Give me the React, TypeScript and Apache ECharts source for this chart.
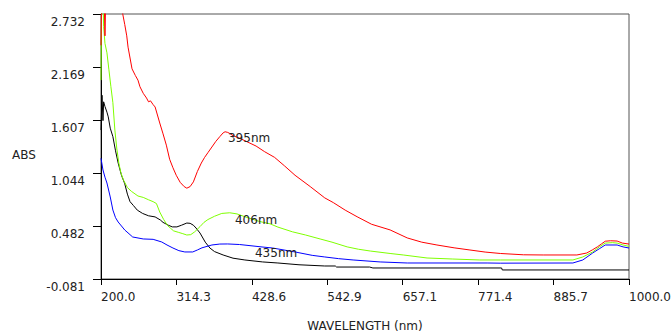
import React, { useEffect, useRef } from "react";
import * as echarts from "echarts";

// X ticks (nm) and Y ticks (ABS)
const xTicks = [200.0, 314.3, 428.6, 542.9, 657.1, 771.4, 885.7, 1000.0];
const yTicks = [-0.081, 0.482, 1.044, 1.607, 2.169, 2.732];

// Red spectrum (395nm)
const redNm = [200, 201.5, 204, 206, 208, 232, 233, 236, 239, 241, 247, 252, 256, 259, 264, 269, 272, 275, 279, 282, 289, 294, 299, 304, 309, 314, 320, 326, 330, 335, 340, 346, 352, 357, 362, 368, 374, 380, 385, 388, 392, 396, 400, 408, 420, 435, 448, 463, 478, 494, 517, 539, 552, 570, 588, 610, 638, 664, 686, 709, 735, 759, 782, 805, 840, 870, 921, 936, 945, 952, 958, 964, 972, 982, 990, 1000];
const redAbs = [2.40, 3.2, 3.2, 2.50, 3.2, 3.2, 2.73, 2.62, 2.50, 2.38, 2.15, 2.08, 2.03, 1.96, 1.89, 1.84, 1.80, 1.81, 1.77, 1.745, 1.575, 1.46, 1.34, 1.19, 1.10, 1.02, 0.945, 0.90, 0.883, 0.90, 0.95, 1.06, 1.15, 1.21, 1.26, 1.32, 1.38, 1.43, 1.47, 1.482, 1.475, 1.46, 1.44, 1.42, 1.38, 1.33, 1.27, 1.21, 1.12, 1.02, 0.90, 0.78, 0.73, 0.65, 0.58, 0.50, 0.44, 0.355, 0.31, 0.28, 0.25, 0.227, 0.205, 0.19, 0.176, 0.174, 0.174, 0.195, 0.23, 0.26, 0.29, 0.32, 0.325, 0.322, 0.30, 0.29];

// Green spectrum (406nm)
const greenNm = [200, 201, 203, 204, 206, 209, 212, 215, 218, 221, 224, 227, 230, 234, 240, 246, 256, 264, 272, 279, 284, 289, 295, 301, 305, 310, 317, 324, 330, 336, 342, 350, 356, 362, 372, 383, 395, 406, 418, 440, 456, 468, 490, 510, 532, 550, 573, 590, 608, 638, 658, 694, 733, 774, 805, 915, 930, 945, 955, 964, 975, 982, 991, 1000];
const greenAbs = [2.03, 2.9, 2.9, 2.60, 2.42, 2.32, 2.14, 1.96, 1.79, 1.50, 1.30, 1.15, 1.05, 0.97, 0.89, 0.85, 0.80, 0.785, 0.76, 0.74, 0.72, 0.63, 0.55, 0.485, 0.46, 0.43, 0.415, 0.40, 0.386, 0.39, 0.42, 0.475, 0.52, 0.55, 0.585, 0.615, 0.622, 0.61, 0.58, 0.53, 0.505, 0.47, 0.42, 0.386, 0.344, 0.31, 0.26, 0.235, 0.216, 0.19, 0.174, 0.142, 0.131, 0.121, 0.121, 0.121, 0.153, 0.206, 0.26, 0.30, 0.305, 0.30, 0.28, 0.265];

// Blue spectrum (435nm)
const blueNm = [200, 203, 206, 209, 214, 218, 222, 226, 236, 248, 264, 279, 292, 300, 309, 318, 327, 339, 346, 353, 368, 380, 392, 410, 444, 460, 494, 520, 539, 560, 582, 623, 664, 785, 805, 915, 930, 945, 955, 964, 982, 991, 1000];
const blueAbs = [1.20, 1.076, 1.0, 0.938, 0.79, 0.651, 0.57, 0.524, 0.439, 0.365, 0.344, 0.340, 0.312, 0.28, 0.248, 0.22, 0.206, 0.206, 0.227, 0.25, 0.28, 0.29, 0.291, 0.285, 0.259, 0.248, 0.206, 0.17, 0.153, 0.135, 0.121, 0.100, 0.089, 0.089, 0.087, 0.089, 0.121, 0.195, 0.24, 0.28, 0.28, 0.26, 0.248];

// Black spectrum
const blackNm = [200, 201.5, 203, 204, 206, 209, 211, 214, 218, 222, 226, 231, 236, 240, 244, 249, 255, 263, 272, 282, 290, 294, 302, 308, 315, 322, 330, 335, 340, 344, 350, 358, 365, 372, 385, 400, 418, 445, 468, 500, 539, 555, 557, 607, 612, 807, 808, 1000];
const blackAbs = [1.50, 1.87, 1.60, 1.80, 1.75, 1.69, 1.64, 1.52, 1.43, 1.28, 1.15, 1.02, 0.93, 0.82, 0.74, 0.70, 0.65, 0.615, 0.59, 0.578, 0.545, 0.52, 0.49, 0.472, 0.472, 0.49, 0.513, 0.51, 0.49, 0.46, 0.407, 0.31, 0.248, 0.21, 0.174, 0.14, 0.121, 0.10, 0.089, 0.07, 0.057, 0.057, 0.046, 0.046, 0.036, 0.036, 0.015, 0.015];

// Peak annotations
const peakLabels = ["395nm", "406nm", "435nm"];
const peakNm = [392.4, 403.0, 433.3];
const peakAbs = [1.416, 0.545, 0.195];

const FONT = "DejaVu Sans";
const TEXT = "#222222";

const zip = (xs: number[], ys: number[]) => xs.map((x, i) => [x, ys[i]]);

export default function App() {
  const ref = useRef<HTMLDivElement>(null);
  useEffect(() => {
    if (!ref.current) return;
    const chart = echarts.init(ref.current, undefined, { renderer: "svg" });
    const mkLabel = (i: number) => ({
      symbol: "circle",
      symbolSize: 0,
      silent: true,
      data: [{ coord: [peakNm[i], peakAbs[i]], name: peakLabels[i] }],
      label: {
        show: true,
        position: "right",
        distance: 0,
        formatter: "{b}",
        color: TEXT,
        fontSize: 12,
        fontFamily: FONT,
      },
    });
    const lineSeries = (name: string, data: number[][], color: string, mp?: any) => ({
      name,
      type: "line",
      data,
      showSymbol: false,
      symbol: "none",
      smooth: false,
      clip: true,
      lineStyle: { color, width: 1 },
      itemStyle: { color },
      markPoint: mp,
    });
    chart.setOption({
      animation: false,
      backgroundColor: "#ffffff",
      grid: {
        left: 101,
        right: 43,
        top: 14,
        bottom: 55,
        containLabel: false,
        outerBoundsMode: "none",
        show: true,
        borderColor: "#555555",
        borderWidth: 1,
      },
      graphic: [
        {
          type: "text",
          left: 12,
          top: 149,
          style: { text: "ABS", fill: TEXT, fontSize: 12, fontFamily: FONT },
        },
      ],
      xAxis: {
        type: "value",
        min: 200,
        max: 1000,
        name: "WAVELENGTH (nm)",
        nameLocation: "middle",
        nameGap: 41,
        nameTextStyle: { color: TEXT, fontSize: 12, fontFamily: FONT },
        axisLine: { show: true, onZero: false, lineStyle: { color: "#000", width: 1 } },
        axisTick: { show: true, inside: false, length: 6, customValues: xTicks, lineStyle: { color: "#000" } },
        axisLabel: {
          customValues: xTicks,
          formatter: (v: number) => v.toFixed(1),
          align: "left",
          margin: 12,
          color: TEXT,
          fontSize: 12,
          fontFamily: FONT,
          showMinLabel: true,
          showMaxLabel: true,
        },
        splitLine: { show: false },
      },
      yAxis: {
        type: "value",
        min: -0.081,
        max: 2.732,
        axisLine: { show: true, onZero: false, lineStyle: { color: "#000", width: 1 } },
        axisTick: { show: true, inside: false, length: 8, customValues: yTicks, lineStyle: { color: "#000" } },
        axisLabel: {
          customValues: yTicks,
          formatter: (v: number) => v.toFixed(3),
          margin: 16,
          verticalAlign: "top",
          padding: [2, 0, 0, 0],
          color: TEXT,
          fontSize: 12,
          fontFamily: FONT,
          showMinLabel: true,
          showMaxLabel: true,
        },
        splitLine: { show: false },
      },
      series: [
        lineSeries("black", zip(blackNm, blackAbs), "#000000"),
        lineSeries("blue", zip(blueNm, blueAbs), "#0000ff", mkLabel(2)),
        lineSeries("green", zip(greenNm, greenAbs), "#7fff00", mkLabel(1)),
        lineSeries("red", zip(redNm, redAbs), "#ff0000", mkLabel(0)),
      ],
    });
    return () => chart.dispose();
  }, []);
  return (
    <div
      ref={ref}
      style={{ position: "fixed", left: 0, top: 0, width: 672, height: 334, background: "#fff" }}
    />
  );
}
